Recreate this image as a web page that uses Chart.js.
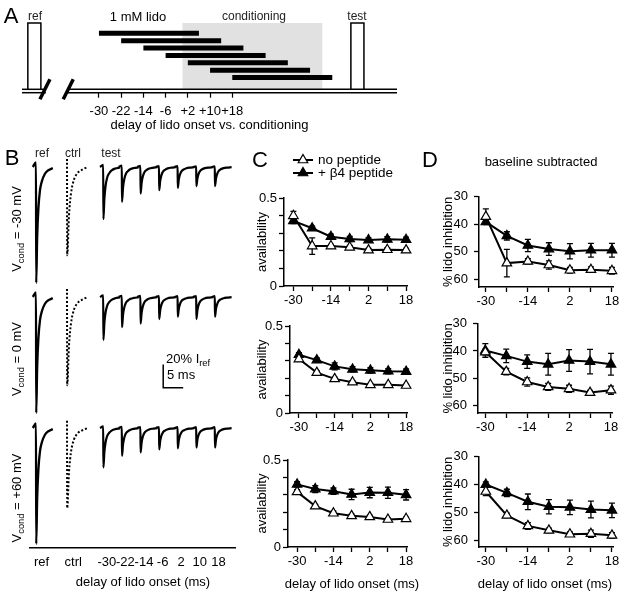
<!DOCTYPE html>
<html>
<head>
<meta charset="utf-8">
<title>Lidocaine onset delay and channel availability</title>
<script src="https://cdn.jsdelivr.net/npm/chart.js@4.4.1/dist/chart.umd.min.js"></script>
<style>
html,body{margin:0;padding:0;background:#fff;}
#fig{position:relative;width:624px;height:593px;overflow:hidden;background:#fff;font-family:'Liberation Sans',Arial,Helvetica,sans-serif;color:#000;}
#fig canvas{position:absolute;}
.lbl{position:absolute;white-space:nowrap;line-height:1;transform:translate(-50%,-50%);}
.lbl sub{font-size:72%;vertical-align:-0.35em;line-height:0;}
.la{transform:translate(0,-50%);}
.rot{transform:translate(-50%,-50%) rotate(-90deg);}
</style>
</head>
<body>
<div id="fig"></div>
<script>
// ======================= DATA =======================
const delays = [-30, -22, -14, -6, 2, 10, 18];                 // delay of lido onset (ms)
const delayTickLabelsA = ['-30', '-22', '-14', '-6', '+2', '+10', '+18'];
const delayTickLabelsB = ['-30', '-22', '-14', '-6', '2', '10', '18'];
const delayLabelsShownCD = [-30, -14, 2, 18];
const seriesNames = ['no peptide', '+ \u03b24 peptide'];
const vcondLabels = ['-30', '0', '+60'];

// Panel A protocol (ms)
const lidoDurationMs = 36;
const conditioningMs = [0, 50.5];
const refPulseMs = [-55.6, -50.9];
const testPulseMs = [60.7, 65.4];

// Panel C: availability
const availNoPep_m30 = [0.399, 0.227, 0.227, 0.220, 0.204, 0.206, 0.204];
const availNoPepErr_m30 = [0.025, 0.047, 0.010, 0.010, 0.010, 0.010, 0.010];
const availB4_m30 = [0.370, 0.328, 0.280, 0.267, 0.261, 0.265, 0.263];
const availB4Err_m30 = [0.015, 0.012, 0.015, 0.015, 0.012, 0.015, 0.015];

const availNoPep_0 = [0.310, 0.232, 0.196, 0.177, 0.162, 0.162, 0.158];
const availNoPepErr_0 = [0.012, 0.010, 0.010, 0.008, 0.008, 0.008, 0.008];
const availB4_0 = [0.335, 0.304, 0.268, 0.251, 0.245, 0.240, 0.238];
const availB4Err_0 = [0.012, 0.012, 0.020, 0.015, 0.015, 0.015, 0.015];

const availNoPep_60 = [0.317, 0.235, 0.194, 0.179, 0.173, 0.158, 0.162];
const availNoPepErr_60 = [0.012, 0.010, 0.012, 0.010, 0.010, 0.008, 0.010];
const availB4_60 = [0.360, 0.333, 0.321, 0.302, 0.313, 0.312, 0.300];
const availB4Err_60 = [0.015, 0.020, 0.018, 0.030, 0.030, 0.032, 0.030];

// Panel D: % lido inhibition (baseline subtracted)
const inhibNoPep_m30 = [37.2, 54.1, 53.5, 54.8, 56.7, 56.5, 56.9];
const inhibNoPepErr_m30 = [2.8, 5.0, 1.0, 1.5, 1.0, 1.0, 1.2];
const inhibB4_m30 = [39.1, 44.2, 47.7, 49.0, 49.8, 49.4, 49.4];
const inhibB4Err_m30 = [1.0, 1.5, 2.2, 2.3, 2.8, 2.5, 2.5];

const inhibNoPep_0 = [40.4, 47.6, 51.4, 53.2, 53.9, 55.3, 54.4];
const inhibNoPepErr_0 = [1.0, 1.2, 1.5, 1.3, 1.3, 0.8, 1.5];
const inhibB4_0 = [39.8, 41.8, 43.9, 44.9, 43.5, 43.9, 44.9];
const inhibB4Err_0 = [2.5, 2.5, 2.5, 4.0, 4.0, 4.5, 4.0];

const inhibNoPep_60 = [42.5, 51.1, 54.9, 56.5, 57.9, 57.7, 58.3];
const inhibNoPepErr_60 = [1.5, 0.8, 1.2, 0.8, 0.8, 1.3, 1.0];
const inhibB4_60 = [40.0, 43.0, 46.2, 48.0, 48.2, 49.0, 49.3];
const inhibB4Err_60 = [1.0, 1.3, 2.8, 2.6, 2.6, 3.0, 2.6];

// Panel B: current traces (% of I_ref)
const refPeakPct = [-100, -100, -100];
const ctrlPeakPct = [-76, -76, -69];
const testPeakPct_m30 = [-45, -30, -23, -20, -18, -16.5, -16.5];
const testPeakPct_0 = [-37, -26, -23, -19, -17, -19, -17];
const testPeakPct_60 = [-34, -24, -21, -18.5, -17.6, -16.8, -16.8];
// normalized waveform (time ms, fraction of peak)
const traceShapeMs = [-0.8, 0, 0.05, 0.3, 0.6, 1.0, 1.5, 2.2, 3.0, 4.2];
const traceShapeFrac = [0, -0.04, 1, 0.6, 0.36, 0.2, 0.12, 0.06, 0.03, 0.01];
const ctrlShapeMs = [0, 0.05, 0.5, 1.0, 1.7, 2.6, 3.8, 5.2];
const ctrlShapeFrac = [-0.09, 1, 0.55, 0.3, 0.15, 0.07, 0.03, 0.0];
const scaleBarPct = 20, scaleBarMs = 5;

// ======================= SETUP =======================
const FONT = "'Liberation Sans', Arial, Helvetica, sans-serif";
Chart.defaults.font.family = FONT;
Chart.defaults.font.size = 13;
Chart.defaults.color = '#000';

const fig = document.getElementById('fig');
function addCanvas(r) {
  const c = document.createElement('canvas');
  c.width = r[2]; c.height = r[3];
  c.style.left = r[0] + 'px'; c.style.top = r[1] + 'px';
  c.style.width = r[2] + 'px'; c.style.height = r[3] + 'px';
  fig.appendChild(c);
  return c;
}
function addText(html, x, y, size, cls, color) {
  const d = document.createElement('div');
  d.className = 'lbl ' + (cls || '');
  d.innerHTML = html;
  d.style.left = x + 'px'; d.style.top = y + 'px';
  d.style.fontSize = size + 'px';
  if (color) d.style.color = color;
  fig.appendChild(d);
  return d;
}
function baseOpts(cr, area) {
  return {
    responsive: false, animation: false, devicePixelRatio: 1, events: [],
    layout: { padding: { left: 0, top: area[1] - cr[1], right: cr[0] + cr[2] - area[2], bottom: 0 } },
    plugins: { legend: { display: false }, tooltip: { enabled: false } }
  };
}
function seg(points, width, extra) {
  return Object.assign({
    data: points, borderColor: '#000', borderWidth: width, pointRadius: 0, clip: false,
    tension: 0, fill: false, borderCapStyle: 'butt', borderJoinStyle: 'miter'
  }, extra || {});
}
function tri(ctx, x, y, r, fill) {
  ctx.beginPath();
  ctx.moveTo(x, y - r);
  ctx.lineTo(x + r * 0.866, y + r * 0.5);
  ctx.lineTo(x - r * 0.866, y + r * 0.5);
  ctx.closePath();
  ctx.fillStyle = fill; ctx.fill(); ctx.stroke();
}

const errorBars = {
  id: 'errorBars',
  beforeDatasetsDraw(chart) {
    const ctx = chart.ctx, xs = chart.scales.x, ys = chart.scales.y;
    chart.data.datasets.forEach(ds => {
      if (!ds.errors) return;
      ctx.save();
      ctx.strokeStyle = '#000'; ctx.lineWidth = 1.3;
      ds.data.forEach((p, i) => {
        const e = ds.errors[i];
        const x = xs.getPixelForValue(p.x);
        const y1 = ys.getPixelForValue(p.y - e), y2 = ys.getPixelForValue(p.y + e);
        ctx.beginPath();
        ctx.moveTo(x, y1); ctx.lineTo(x, y2);
        ctx.moveTo(x - 3, y1); ctx.lineTo(x + 3, y1);
        ctx.moveTo(x - 3, y2); ctx.lineTo(x + 3, y2);
        ctx.stroke();
      });
      ctx.restore();
    });
  }
};

const axisGrid = { display: true, drawOnChartArea: false, drawTicks: true, tickLength: 5, tickWidth: 1.3, tickColor: '#000' };
const axisBorder = { display: true, color: '#000', width: 1.5 };

function cdChart(p) {
  const [x0, y0, w, h] = p.canvas, [l, t, r, b] = p.area;
  const mk = (name, vals, errs, fill) => ({
    label: name,
    data: delays.map((d, i) => ({ x: d, y: vals[i] })), errors: errs,
    borderColor: '#000', borderWidth: 2, pointStyle: 'triangle', pointRadius: 5.5,
    pointBorderWidth: 1.2, pointBorderColor: '#000', pointBackgroundColor: fill, clip: false, tension: 0
  });
  const opts = baseOpts(p.canvas, p.area);
  opts.scales = {
    x: {
      type: 'linear', min: p.xRange[0], max: p.xRange[1],
      afterBuildTicks: s => { s.ticks = delays.map(v => ({ value: v })); },
      afterFit: s => { s.height = y0 + h - b; },
      ticks: { autoSkip: false, maxRotation: 0, minRotation: 0, padding: 2,
        callback: v => delayLabelsShownCD.includes(v) ? String(v) : '' },
      grid: axisGrid, border: axisBorder
    },
    y: {
      type: 'linear', min: p.yRange[0], max: p.yRange[1], reverse: !!p.reverse,
      afterBuildTicks: s => { s.ticks = p.yTicks.map(v => ({ value: v })); },
      afterFit: s => { s.width = l - x0; },
      ticks: { autoSkip: false, padding: p.yPad, callback: v => { const k = p.yTicks.indexOf(v); return k >= 0 ? p.yLabels[k] : ''; } },
      grid: axisGrid, border: axisBorder,
      title: { display: true, text: p.yTitle, padding: 0, color: '#000' }
    }
  };
  return new Chart(addCanvas(p.canvas), {
    type: 'line',
    data: { datasets: [mk(seriesNames[0], p.open, p.openErr, '#fff'), mk(seriesNames[1], p.filled, p.filledErr, '#000')] },
    options: opts,
    plugins: [errorBars].concat(p.plugins || [])
  });
}

// ======================= PANEL A =======================
(function () {
  const cr = [0, 0, 624, 133], area = [22, 23, 397, 92.7];
  const upper = 3.4, top = 69.7;
  const barLevel = i => 59.4 - i * 7.37;
  const xMin = -57.7, xMax = 77.3, breakL = -49.1, breakR = -41.2;
  const ds = [];
  ds.push(seg([{ x: conditioningMs[0], y: top }, { x: conditioningMs[1], y: top }], 1,
    { borderColor: 'rgba(0,0,0,0)', fill: { value: upper }, backgroundColor: '#e1e1e1', order: 10 }));
  delays.forEach((d, i) => ds.push(seg([{ x: d, y: barLevel(i) }, { x: d + lidoDurationMs, y: barLevel(i) }], 5)));
  [refPulseMs, testPulseMs].forEach(pp => ds.push(seg([
    { x: pp[0], y: upper }, { x: pp[0], y: top }, { x: pp[1], y: top }, { x: pp[1], y: upper }], 1.5)));
  [upper, 0].forEach(yv => {
    ds.push(seg([{ x: xMin, y: yv }, { x: breakL, y: yv }], 1.5));
    ds.push(seg([{ x: breakR, y: yv }, { x: xMax, y: yv }], 1.5));
  });
  ds.push(seg([{ x: -51.25, y: -6.6 }, { x: -47.65, y: 13.4 }], 3.5));
  ds.push(seg([{ x: -42.86, y: -6.6 }, { x: -39.25, y: 13.4 }], 3.5));
  const opts = baseOpts(cr, area);
  opts.layout.padding.left = area[0];
  opts.scales = {
    x: {
      type: 'linear', min: xMin, max: xMax,
      afterBuildTicks: s => { s.ticks = delays.map(v => ({ value: v })); },
      afterFit: s => { s.height = cr[3] - area[3]; },
      ticks: { autoSkip: false, maxRotation: 0, minRotation: 0, padding: 6, callback: (v, i) => delayTickLabelsA[i] },
      grid: { display: true, drawOnChartArea: false, drawTicks: true, tickLength: 5, tickWidth: 1.2, tickColor: '#000' },
      border: { display: false },
      title: { display: true, text: 'delay of lido onset vs. conditioning', padding: 0, color: '#000' }
    },
    y: { display: false, min: 0, max: top }
  };
  new Chart(addCanvas(cr), { type: 'line', data: { datasets: ds }, options: opts });
})();

// ======================= PANEL B =======================
const B_pxPerPct = 1.16, B_pxPerMs = 4;
const B_refStart = 1.5, B_ctrlStart = 9.25, B_testStart = 18.3, B_testStep = 4.65;
function traceRow(k, cr, area, baselinePx, testPeaks, showAxis, extraDs) {
  const ds = [];
  const shape = (start, peak, T, F) => T.map((t, i) => ({ x: start + t, y: peak * F[i] }));
  const sty = { cubicInterpolationMode: 'monotone' };
  ds.push(seg(shape(B_refStart, refPeakPct[k], traceShapeMs, traceShapeFrac), 2.3, sty));
  ds.push(seg(shape(B_ctrlStart, ctrlPeakPct[k], ctrlShapeMs, ctrlShapeFrac), 2, Object.assign({ borderDash: [2, 2] }, sty)));
  testPeaks.forEach((pk, i) => ds.push(seg(shape(B_testStart + i * B_testStep, pk, traceShapeMs, traceShapeFrac), 2.2, sty)));
  (extraDs || []).forEach(d => ds.push(d));
  const opts = baseOpts(cr, area);
  opts.layout.padding.left = area[0] - cr[0];
  const tickVals = [B_refStart + 1.4, B_ctrlStart + 1.55].concat(delays.map((d, i) => B_testStart + i * B_testStep + 0.9));
  const tickLbls = ['ref', 'ctrl'].concat(delayTickLabelsB);
  opts.scales = {
    x: {
      type: 'linear', display: showAxis, min: 0, max: (area[2] - area[0]) / B_pxPerMs,
      afterBuildTicks: s => { s.ticks = tickVals.map(v => ({ value: v })); },
      afterFit: s => { s.height = cr[1] + cr[3] - area[3]; },
      ticks: { autoSkip: false, maxRotation: 0, minRotation: 0, padding: 7, callback: (v, i) => tickLbls[i] },
      grid: { display: false, drawTicks: false },
      border: { display: true, color: '#000', width: 1.5 }
    },
    y: { display: false, min: -(area[3] - baselinePx) / B_pxPerPct, max: (baselinePx - area[1]) / B_pxPerPct }
  };
  new Chart(addCanvas(cr), { type: 'line', data: { datasets: ds }, options: opts });
}
traceRow(0, [0, 140, 240, 145], [30, 150, 235, 285], 167, testPeakPct_m30, false);
{
  const sbX = 33.3, sbY = -78.2;
  traceRow(1, [0, 285, 240, 135], [30, 290, 235, 420], 297, testPeakPct_0, false, [
    seg([{ x: sbX, y: sbY + scaleBarPct }, { x: sbX, y: sbY }, { x: sbX + scaleBarMs, y: sbY }], 1.5)
  ]);
}
traceRow(2, [0, 420, 240, 173], [30, 422, 235, 548], 428, testPeakPct_60, true);

// ======================= PANELS C & D =======================
const cLegend = {
  id: 'cLegend',
  afterDraw(chart) {
    const ctx = chart.ctx, ox = 255, oy = 150;
    [[160, '#fff', seriesNames[0]], [173, '#000', seriesNames[1]]].forEach(([py, fill, txt]) => {
      const y = py - oy;
      ctx.save();
      ctx.strokeStyle = '#000'; ctx.lineWidth = 2;
      ctx.beginPath(); ctx.moveTo(293 - ox, y); ctx.lineTo(313 - ox, y); ctx.stroke();
      ctx.lineWidth = 1.2; tri(ctx, 303 - ox, y, 5.5, fill);
      ctx.fillStyle = '#000'; ctx.font = '13.5px ' + FONT; ctx.textBaseline = 'middle';
      ctx.fillText(txt, 318 - ox, y + 0.5);
      ctx.restore();
    });
  }
};
const cTicks = [0, 0.1, 0.2, 0.3, 0.4, 0.5], cLabels = ['0', '', '', '', '', '0.5'];
const dTicks = [30, 40, 50, 60], dLabels = ['30', '40', '50', '60'];

cdChart({ canvas: [255, 150, 162, 162], area: [284, 198, 407, 286], xRange: [-34, 18.4], yRange: [0, 0.5],
  yTicks: cTicks, yLabels: cLabels, yTitle: 'availability', yPad: 2,
  open: availNoPep_m30, openErr: availNoPepErr_m30, filled: availB4_m30, filledErr: availB4Err_m30, plugins: [cLegend] });
cdChart({ canvas: [255, 316, 162, 123], area: [290, 326, 407, 413], xRange: [-34, 18.4], yRange: [0, 0.5],
  yTicks: cTicks, yLabels: cLabels, yTitle: 'availability', yPad: 2,
  open: availNoPep_0, openErr: availNoPepErr_0, filled: availB4_0, filledErr: availB4Err_0 });
cdChart({ canvas: [255, 450, 162, 125], area: [288, 460, 407, 547], xRange: [-34, 18.4], yRange: [0, 0.5],
  yTicks: cTicks, yLabels: cLabels, yTitle: 'availability', yPad: 2,
  open: availNoPep_60, openErr: availNoPepErr_60, filled: availB4_60, filledErr: availB4Err_60 });

cdChart({ canvas: [441, 183, 183, 130], area: [479, 193, 613, 287], xRange: [-32.6, 18.4], yRange: [30, 62.8], reverse: true,
  yTicks: dTicks, yLabels: dLabels, yTitle: '% lido inhibition', yPad: 6,
  open: inhibNoPep_m30, openErr: inhibNoPepErr_m30, filled: inhibB4_m30, filledErr: inhibB4Err_m30 });
cdChart({ canvas: [441, 310, 183, 129], area: [478, 320, 612, 413], xRange: [-32.8, 18.4], yRange: [30, 62.8], reverse: true,
  yTicks: dTicks, yLabels: dLabels, yTitle: '% lido inhibition', yPad: 6,
  open: inhibNoPep_0, openErr: inhibNoPepErr_0, filled: inhibB4_0, filledErr: inhibB4Err_0 });
cdChart({ canvas: [441, 443, 183, 132], area: [479, 453, 613, 547], xRange: [-32.6, 18.4], yRange: [30, 62.5], reverse: true,
  yTicks: dTicks, yLabels: dLabels, yTitle: '% lido inhibition', yPad: 6,
  open: inhibNoPep_60, openErr: inhibNoPepErr_60, filled: inhibB4_60, filledErr: inhibB4Err_60 });

// ======================= TEXT =======================
addText('A', 11, 16, 22);
addText('ref', 35, 16, 12, '', '#222');
addText('1 mM lido', 138, 16, 13);
addText('conditioning', 254, 16, 12, '', '#222');
addText('test', 357, 16, 12, '', '#222');

addText('B', 12, 158, 22);
addText('ref', 42, 153, 12, '', '#222');
addText('ctrl', 73, 153, 12, '', '#222');
addText('test', 111, 153, 12, '', '#222');
addText('V<sub>cond</sub> = ' + vcondLabels[0] + ' mV', 16, 229, 13, 'rot');
addText('V<sub>cond</sub> = ' + vcondLabels[1] + ' mV', 16, 359, 13, 'rot');
addText('V<sub>cond</sub> = ' + vcondLabels[2] + ' mV', 16, 498, 13, 'rot');
addText('20% I<sub>ref</sub>', 166, 358, 13, 'la');
addText(scaleBarMs + ' ms', 167, 374, 13, 'la');
addText('delay of lido onset (ms)', 143, 581, 13);

addText('C', 260, 160, 22);
addText('D', 430, 160, 22);
addText('baseline subtracted', 541, 161, 13);
addText('delay of lido onset (ms)', 352, 583, 13);
addText('delay of lido onset (ms)', 545, 583, 13);
</script>
</body>
</html>
